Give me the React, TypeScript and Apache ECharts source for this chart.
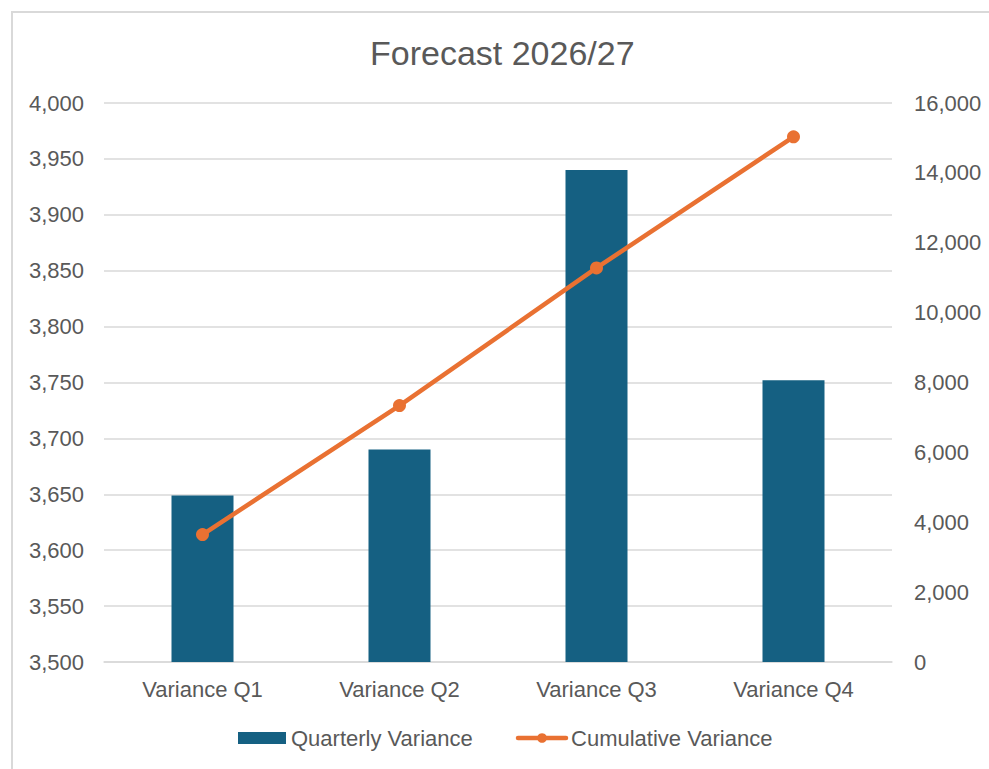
import React, { useEffect, useRef } from "react";
import * as echarts from "echarts";

const categories = ["Variance Q1", "Variance Q2", "Variance Q3", "Variance Q4"];
const quarterlyVariance = [3649, 3690, 3940, 3752];
const cumulativeVariance = [3649, 7339, 11279, 15031];
const titleText = "Forecast 2026/27";
const seriesNames = ["Quarterly Variance", "Cumulative Variance"];

const TEXT = "#595959";
const GRID = "#d9d9d9";
const FONT = "'Liberation Sans', Arial, sans-serif";

export default function App() {
  const ref = useRef<HTMLDivElement>(null);
  useEffect(() => {
    if (!ref.current) return;
    const chart = echarts.init(ref.current, null, { renderer: "svg" });
    chart.setOption({
      animation: false,
      backgroundColor: "#ffffff",
      textStyle: { fontFamily: FONT },
      title: {
        text: titleText,
        left: 365,
        top: 31,
        textStyle: { color: TEXT, fontSize: 34, fontWeight: "normal", fontFamily: FONT },
      },
      graphic: [
        {
          type: "rect",
          shape: { x: 12, y: 12, width: 1000, height: 1000 },
          style: { fill: "none", stroke: GRID, lineWidth: 2 },
          silent: true,
        },
      ],
      legend: {
        left: 233,
        top: 722,
        itemWidth: 48,
        itemHeight: 12,
        itemGap: 43,
        textStyle: { color: TEXT, fontSize: 22, fontFamily: FONT },
        data: [
          { name: seriesNames[0], icon: "rect" },
          {
            name: seriesNames[1],
            lineStyle: { width: 4.5, color: "#E97132" },
            itemStyle: { color: "#E97132" },
          },
        ],
      },
      grid: { left: 104, right: 97, top: 103, bottom: 107, containLabel: false },
      xAxis: {
        type: "category",
        data: categories,
        axisTick: { show: false },
        axisLine: { show: true, lineStyle: { color: GRID, width: 1.5 } },
        axisLabel: { color: TEXT, fontSize: 22, margin: 16, fontFamily: FONT },
      },
      yAxis: [
        {
          type: "value",
          min: 3500,
          max: 4000,
          interval: 50,
          axisLine: { show: false },
          axisTick: { show: false },
          splitLine: { lineStyle: { color: GRID, width: 1.5 } },
          axisLabel: {
            color: TEXT,
            fontSize: 22,
            margin: 20,
            fontFamily: FONT,
            formatter: (v: number) => v.toLocaleString("en-US"),
          },
        },
        {
          type: "value",
          min: 0,
          max: 16000,
          interval: 2000,
          axisLine: { show: false },
          axisTick: { show: false },
          splitLine: { show: false },
          axisLabel: {
            color: TEXT,
            fontSize: 22,
            margin: 22,
            fontFamily: FONT,
            formatter: (v: number) => v.toLocaleString("en-US"),
          },
        },
      ],
      series: [
        {
          name: seriesNames[0],
          type: "bar",
          data: quarterlyVariance,
          yAxisIndex: 0,
          barWidth: 62,
          itemStyle: { color: "#156082" },
        },
        {
          name: seriesNames[1],
          type: "line",
          data: cumulativeVariance,
          yAxisIndex: 1,
          symbol: "circle",
          symbolSize: 13,
          lineStyle: { color: "#E97132", width: 4.5, cap: "round" },
          itemStyle: { color: "#E97132" },
        },
      ],
    });
    return () => chart.dispose();
  }, []);
  return (
    <div
      ref={ref}
      style={{ position: "absolute", left: 0, top: 0, width: 989, height: 769 }}
    />
  );
}
